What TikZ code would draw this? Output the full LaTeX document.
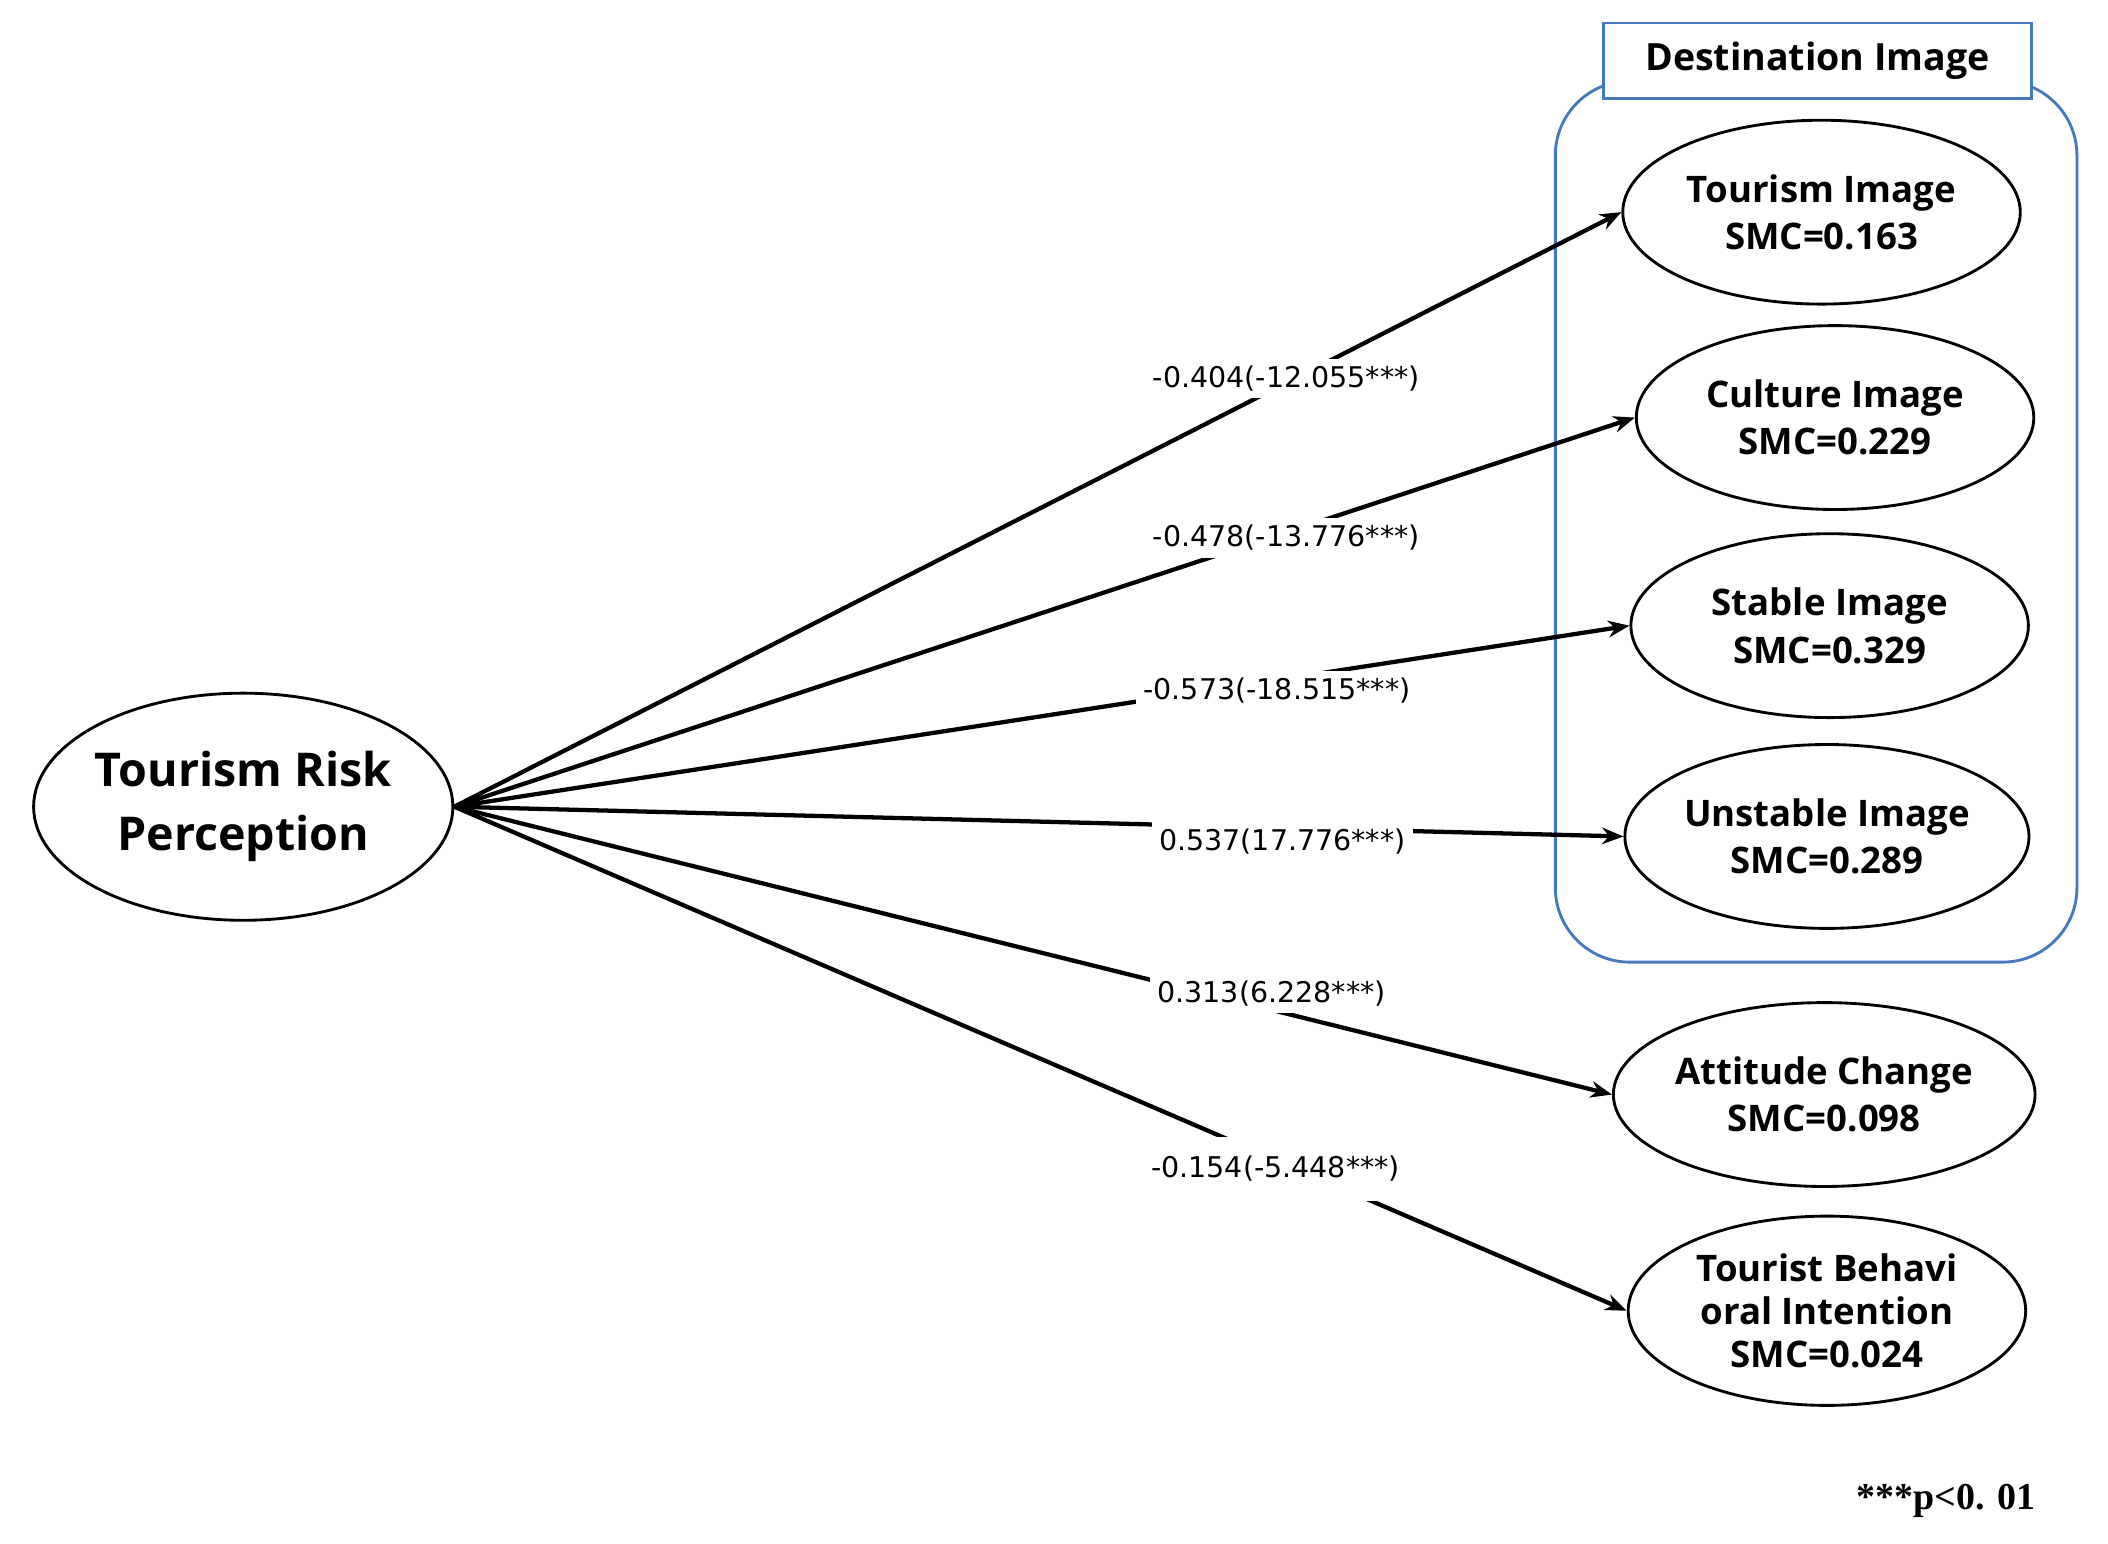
\documentclass[tikz,border=0pt]{standalone}
\usepackage{fontspec}
\setmainfont{Open Sans}
\newfontfamily\lblfont{DejaVu Sans}
\newfontfamily\serfont{Liberation Serif}
\usetikzlibrary{arrows.meta,shapes.geometric}
\begin{document}
\begin{tikzpicture}[x=0.01cm,y=-0.01cm,
  ell/.style={draw,line width=0.6pt,ellipse,minimum width=2.94cm,minimum height=1.36cm,inner sep=0pt,align=center,font=\fontsize{7.7}{10}\selectfont\bfseries},
  conn/.style={line width=0.9pt,-{Stealth[length=4.5pt,width=3.5pt]}},
  lbl/.style={fill=white,inner sep=1.5pt,font=\lblfont\fontsize{6}{7}\selectfont}]
\useasboundingbox (0,0) rectangle (1560,1142);
\draw[draw={rgb,255:red,70;green,120;blue,190},line width=0.6pt,rounded corners=0.55cm] (1151,60) rectangle (1537,712);
\node[draw={rgb,255:red,70;green,120;blue,190},fill=white,line width=0.6pt,minimum width=3.16cm,minimum height=0.56cm,font=\fontsize{7.9}{10}\selectfont\bfseries] (di) at (1345,45) {Destination Image};
\node[ell,minimum width=3.1cm,minimum height=1.68cm,font=\fontsize{9.8}{13.5}\selectfont\bfseries] (trp) at (180,597) {Tourism Risk\\Perception};
\node[ell] (ti) at (1348,157) {Tourism Image\\SMC=0.163};
\node[ell] (ci) at (1358,309) {Culture Image\\SMC=0.229};
\node[ell] (si) at (1354,463) {Stable Image\\SMC=0.329};
\node[ell] (ui) at (1352,619) {Unstable Image\\SMC=0.289};
\node[ell] (ac) at (1350,810) {Attitude Change\\SMC=0.098};
\node[ell,minimum height=1.4cm,font=\fontsize{7.7}{9}\selectfont\bfseries] (tb) at (1352,970) {Tourist Behavi\\oral Intention\\SMC=0.024};
\draw[conn] (trp.east) -- (ti.west);
\draw[conn] (trp.east) -- (ci.west);
\draw[conn] (trp.east) -- (si.west);
\draw[conn] (trp.east) -- (ui.west);
\draw[conn] (trp.east) -- (ac.west);
\draw[conn] (trp.east) -- (tb.west);
\node[lbl] (l1) at (952,280) {-0.404(-12.055***)};
\node[lbl] (l2) at (952,398) {-0.478(-13.776***)};
\node[lbl] (l3) at (945,511) {-0.573(-18.515***)};
\node[lbl] (l4) at (949,623) {0.537(17.776***)};
\node[lbl] (l5) at (941,735) {0.313(6.228***)};
\node[lbl,inner ysep=4pt] (l6) at (944,865) {-0.154(-5.448***)};
\node[font=\serfont\fontsize{8}{10}\selectfont\bfseries] (pn) at (1440,1111) {***p<0. 01};
\end{tikzpicture}
\end{document}
